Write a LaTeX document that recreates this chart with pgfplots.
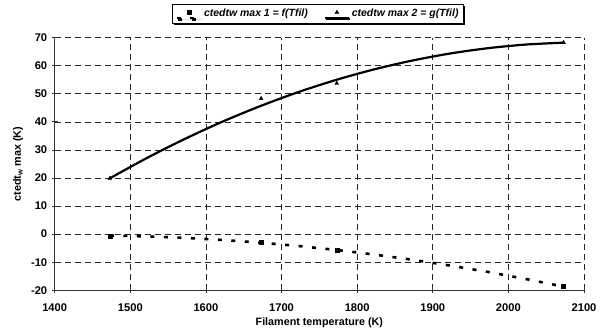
\documentclass[border=0pt]{standalone}
\usepackage{pgfplots}
\pgfplotsset{compat=1.18}
\usepackage{fontspec}
\setmainfont{Liberation Sans}
\usetikzlibrary{shadows}
\begin{document}
\begin{tikzpicture}[x=1bp,y=1bp]
\useasboundingbox (0,0) rectangle (604,333);
\begin{axis}[
  at={(54.7bp,42.7bp)}, anchor=south west,
  scale only axis, width=529.3bp, height=252.7bp,
  xmin=1400, xmax=2100, ymin=-20, ymax=70,
  xtick={1400,1500,...,2100}, ytick={-20,-10,...,70},
  axis x line*=bottom, axis y line*=left,
  axis line style={black!80, line width=0.9bp},
  tick align=center, major tick length=6bp,
  tick style={black!80, line width=0.8bp},
  grid=major,
  major grid style={black!85, line width=0.6bp, dash pattern=on 6.5bp off 3.5bp},
  extra y ticks={0}, extra y tick labels={},
  extra y tick style={grid style={solid, black!55, line width=0.9bp}, major tick length=0pt},
  xticklabel={\fontsize{11.2}{13}\selectfont\bfseries\pgfmathprintnumber[1000 sep={},assume math mode=true]{\tick}},
  yticklabel={\fontsize{11.2}{13}\selectfont\bfseries\pgfmathprintnumber[assume math mode=true]{\tick}},
  xticklabel style={yshift=-6.5bp},
  yticklabel style={xshift=-1bp},
  xlabel={\bfseries Filament temperature (K)},
  ylabel={\bfseries ctedt\textsubscript{w} max (K)},
  label style={font=\fontsize{10.8}{12}\selectfont\bfseries},
  xlabel style={yshift=0bp},
  ylabel style={yshift=-2bp},
  legend columns=2,
  legend style={at={(0.4975,1.133)}, anchor=north, draw=black, line width=0.8bp,
    font=\fontsize{10.5}{12}\selectfont\bfseries\itshape,
    drop shadow={opacity=1, shadow xshift=1.5bp, shadow yshift=-1.5bp, fill=black},
    fill=white, inner sep=3bp,
    /tikz/every even column/.append style={column sep=14bp}},
  legend image code/.code={%
    \draw[#1, mark=none] (0bp,-4bp) -- (24bp,-4bp);
    \path[#1, solid] plot coordinates {(12bp,1.5bp)};}
]
\addplot[black, line width=2.6bp, dash pattern=on 4bp off 9.5bp, mark=none, forget plot]
  coordinates {(1473,-0.5)(1523,-0.81)(1573,-1.34)(1623,-2.09)(1673,-3.06)(1723,-4.24)(1773,-5.65)(1823,-7.28)(1873,-9.12)(1923,-11.19)(1973,-13.47)(2023,-15.98)(2073,-18.7)};
\addplot[black, only marks, mark=square*, mark size=2bp, forget plot]
  coordinates {(1473,-0.6)(1673,-3.0)(1773,-5.7)(2073,-18.7)};
\addplot[black, smooth, line width=2.2bp, mark=none, forget plot]
  coordinates {(1473,19.9)(1523,27.27)(1573,34.03)(1623,40.19)(1673,45.73)(1723,50.67)(1773,55.0)(1823,58.72)(1873,61.83)(1923,64.34)(1973,66.23)(2023,67.52)(2073,68.2)};
\addplot[black, only marks, mark=triangle*, mark size=2.2bp, forget plot]
  coordinates {(1473,19.9)(1673,48.3)(1773,53.7)(2073,68.2)};
\addlegendimage{black, line width=2.6bp, dash pattern=on 4bp off 9.5bp, mark=square*, mark size=2bp, mark options={solid,line width=0.4bp}}
\addlegendentry{ctedtw max 1 = f(Tfil)}
\addlegendimage{black, line width=2bp, mark=triangle*, mark size=2.2bp, mark options={line width=0.4bp}}
\addlegendentry{ctedtw max 2 = g(Tfil)}
\end{axis}
\end{tikzpicture}
\end{document}
